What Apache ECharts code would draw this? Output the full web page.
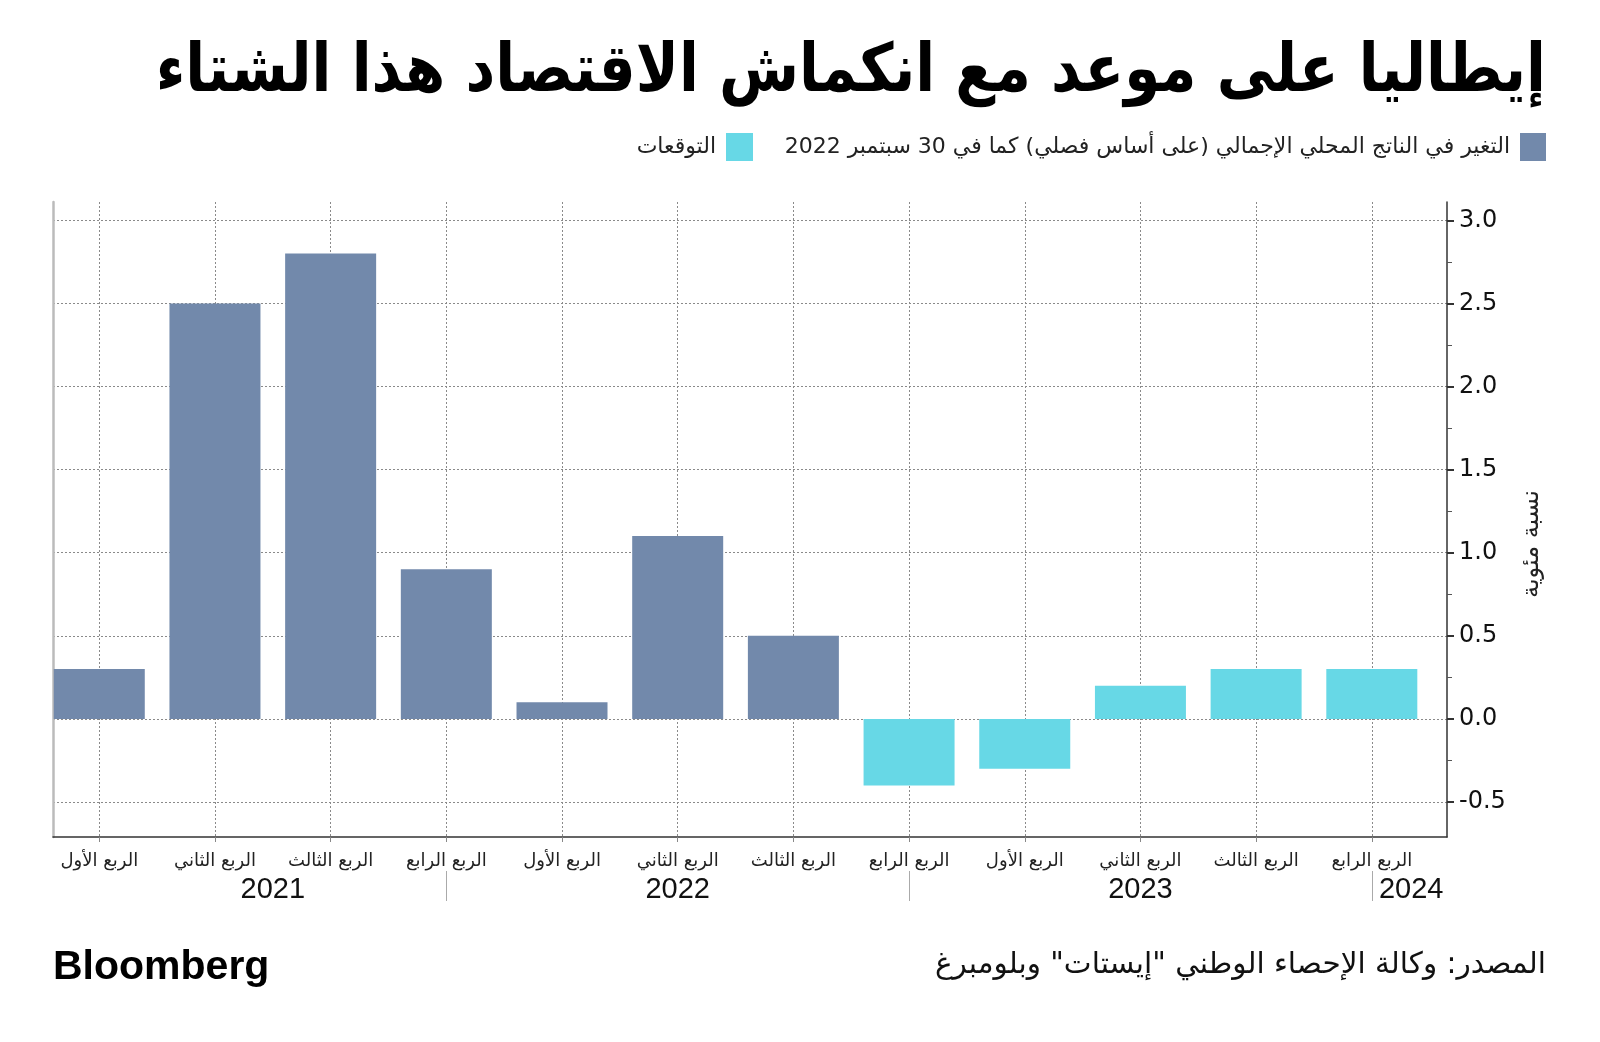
<!DOCTYPE html>
<html><head><meta charset="utf-8">
<script src="https://cdn.jsdelivr.net/npm/echarts@6/dist/echarts.min.js"></script>
<style>html,body{margin:0;padding:0;background:#fff}#c{width:1600px;height:1042px}</style>
</head><body><div id="c"></div>
<script>
// ---- data ----
const quarterLabels = ['الربع الأول','الربع الثاني','الربع الثالث','الربع الرابع',
  'الربع الأول','الربع الثاني','الربع الثالث','الربع الرابع',
  'الربع الأول','الربع الثاني','الربع الثالث','الربع الرابع'];
const actualValues   = [0.3, 2.5, 2.8, 0.9, 0.1, 1.1, 0.5, null, null, null, null, null];
const forecastValues = [null, null, null, null, null, null, null, -0.4, -0.3, 0.2, 0.3, 0.3];
const yTickValues = [-0.5, 0, 0.5, 1, 1.5, 2, 2.5, 3];
const yMinorTickValues = [-0.25, 0.25, 0.75, 1.25, 1.75, 2.25, 2.75];
const yearLabels = ['2021', '2022', '2023', '2024'];
const yearLabelPos = [1.5, 5, 9, 11.34];
const yearSeparatorPos = [3, 7, 11];
const actualName = 'التغير في الناتج المحلي الإجمالي (على أساس فصلي) كما في 30 سبتمبر 2022';
const forecastName = 'التوقعات';
const titleText = 'إيطاليا على موعد مع انكماش الاقتصاد هذا الشتاء';
const sourceText = 'المصدر: وكالة الإحصاء الوطني "إيستات" وبلومبرغ';
const yName = 'نسبة مئوية';

const COLOR_ACTUAL = '#7289ab', COLOR_FORECAST = '#67d8e6';
const quarterIdx = quarterLabels.map((_, i) => i);
const toPairs = arr => arr.map((v, i) => v == null ? null : [i, v]).filter(Boolean);

const AR = "'DejaVu Sans', sans-serif";
const XMIN = -0.4, XMAX = 11.65, YMIN = -0.71, YMAX = 3.11;
const dotted = { type: [2, 2], color: '#8a8a8a', width: 1 };

const chart = echarts.init(document.getElementById('c'), null, { renderer: 'canvas' });
chart.setOption({
  animation: false,
  backgroundColor: '#fff',
  grid: { left: 53, right: 153, top: 202, bottom: 205, containLabel: false },
  xAxis: [
    {
      type: 'value', min: XMIN, max: XMAX, position: 'bottom',
      axisLine: { show: true, onZero: false, lineStyle: { color: '#333', width: 1.5 } },
      axisTick: { show: true, customValues: quarterIdx, length: 5, lineStyle: { color: '#888' } },
      axisLabel: { customValues: quarterIdx, formatter: v => quarterLabels[Math.round(v)], fontFamily: AR, fontSize: 18, color: '#222', margin: 15 },
      splitLine: { show: true, lineStyle: dotted }
    },
    {
      type: 'value', min: XMIN, max: XMAX, position: 'bottom', offset: 34,
      axisLine: { show: false, onZero: false },
      axisTick: { show: true, customValues: yearSeparatorPos, length: 30, lineStyle: { color: '#aaa' } },
      axisLabel: { customValues: yearLabelPos, formatter: v => yearLabels[yearLabelPos.indexOf(v)], fontFamily: "'Liberation Sans Narrow', sans-serif", fontSize: 29, color: '#111', margin: 4 },
      splitLine: { show: false }
    }
  ],
  yAxis: [
    {
      type: 'value', min: YMIN, max: YMAX, position: 'right',
      axisLine: { show: true, onZero: false, lineStyle: { color: '#333', width: 1.5 } },
      axisTick: { show: true, customValues: yTickValues, length: 7, lineStyle: { color: '#333', width: 2 } },
      axisLabel: { customValues: yTickValues, formatter: v => v.toFixed(1), fontFamily: "'DejaVu Sans', sans-serif", fontSize: 24, color: '#111', margin: 12 },
      splitLine: { show: true, lineStyle: dotted }
    },
    {
      type: 'value', min: YMIN, max: YMAX, position: 'right',
      axisLine: { show: false, onZero: false },
      axisTick: { show: true, customValues: yMinorTickValues, length: 5, lineStyle: { color: '#555' } },
      axisLabel: { show: false }, splitLine: { show: false }
    },
    {
      type: 'value', min: YMIN, max: YMAX, position: 'left',
      axisLine: { show: true, onZero: false, lineStyle: { color: '#bbb', width: 2.5 } },
      axisTick: { show: false }, axisLabel: { show: false }, splitLine: { show: false }
    }
  ],
  series: [
    { name: actualName, type: 'bar', stack: 'all', barWidth: 91, xAxisIndex: 0, yAxisIndex: 0,
      itemStyle: { color: COLOR_ACTUAL }, data: toPairs(actualValues) },
    { name: forecastName, type: 'bar', stack: 'all', barWidth: 91, xAxisIndex: 0, yAxisIndex: 0,
      itemStyle: { color: COLOR_FORECAST }, data: toPairs(forecastValues) }
  ],
  graphic: [
    { type: 'text', x: 1546, y: 40, scaleY: 1.15,
      style: { text: titleText, align: 'right', verticalAlign: 'top', font: "bold 58px 'DejaVu Sans', sans-serif", fill: '#000' } },
    // legend
    { type: 'rect', shape: { x: 1520, y: 133, width: 26, height: 28 }, style: { fill: COLOR_ACTUAL } },
    { type: 'text', x: 1510, y: 147, style: { text: actualName, align: 'right', verticalAlign: 'middle', font: "22px 'DejaVu Sans', sans-serif", fill: '#222' } },
    { type: 'rect', shape: { x: 726, y: 133, width: 27, height: 28 }, style: { fill: COLOR_FORECAST } },
    { type: 'text', x: 716, y: 147, style: { text: forecastName, align: 'right', verticalAlign: 'middle', font: "22px 'DejaVu Sans', sans-serif", fill: '#222' } },
    // y axis name
    { type: 'text', x: 1532, y: 544, rotation: Math.PI / 2,
      style: { text: yName, align: 'center', verticalAlign: 'middle', font: "24px 'DejaVu Sans', sans-serif", fill: '#222' } },
    { type: 'text', left: 53, top: 947, style: { text: 'Bloomberg', font: "bold 41px 'Liberation Sans', Arial, sans-serif", fill: '#000' } },
    { type: 'text', x: 1546, y: 965, style: { text: sourceText, align: 'right', verticalAlign: 'middle', font: "29.5px 'DejaVu Sans', sans-serif", fill: '#111' } }
  ]
});
</script></body></html>
